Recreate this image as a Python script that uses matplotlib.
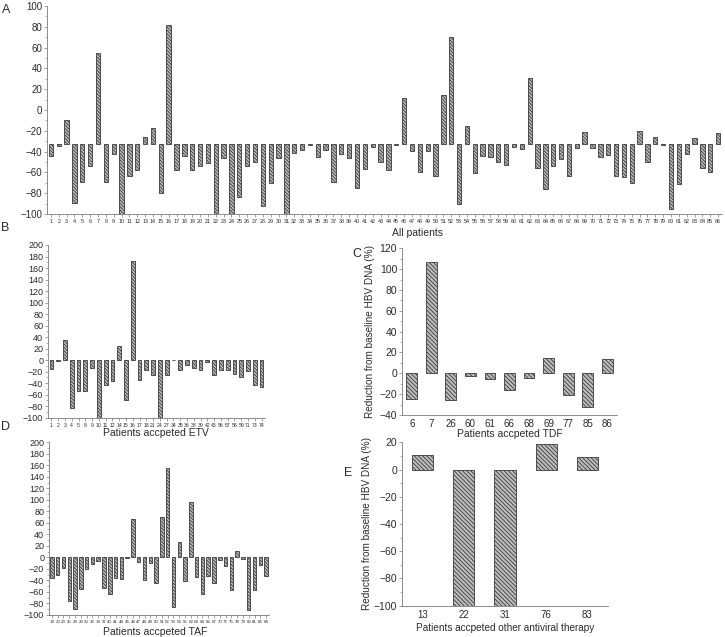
import matplotlib
matplotlib.use('Agg')
import matplotlib.pyplot as plt
from matplotlib.ticker import MultipleLocator
import numpy as np

plt.rcParams['font.family'] = ['Liberation Sans', 'DejaVu Sans']
plt.rcParams['hatch.linewidth'] = 0.6
plt.rcParams['axes.unicode_minus'] = True

# ---------------- data ----------------
a_patients = list(range(1, 87))
a_values = [-44.5, -35, -10, -89, -69, -53.5, 54.5, -69, -42.6, -100,
            -63, -57.7, -25.6, -17.6, -80, 81.7, -57.7, -44.5, -57.7, -54,
            -51, -100, -46, -100, -84, -54, -50, -92, -70, -46,
            -100, -41, -38, -34, -45, -38, -69, -42, -46, -75,
            -57, -35.5, -50, -58, -34, 11.2, -39, -60, -39.5, -63,
            14, 70.5, -90, -15.4, -61, -44.5, -45.5, -49.7, -53, -35.5,
            -37.5, 30.4, -56, -75.6, -54, -47, -63, -37, -21, -37,
            -45.5, -43.6, -63, -64.4, -70.5, -20.5, -50, -25.6, -34, -95,
            -71.5, -42, -27, -55.5, -60, -22.4]
a_base = -33

b_patients = [1, 2, 3, 4, 5, 8, 9, 10, 11, 12, 14, 15, 16, 17, 18, 21, 24, 27,
              34, 35, 36, 38, 39, 42, 43, 56, 57, 58, 59, 71, 73, 74]
b_values = [-16, -2, 35, -84, -53, -53, -14, -100, -44, -36, 24, -70, 172, -35,
            -17, -26, -100, -25, 1, -17, -8, -13, -18, -4, -25, -17, -18, -24,
            -30, -19, -44, -46]

c_patients = ['6', '7', '26', '60', '61', '66', '68', '69', '77', '85', '86']
c_values = [-24.6, 107, -25.3, -2.9, -5, -16.3, -4.8, 14.7, -20.5, -32.6, 13.4]

d_patients = [19, 20, 23, 25, 28, 29, 30, 32, 33, 37, 40, 41, 44, 45, 46, 47, 48,
              49, 50, 51, 52, 53, 54, 55, 62, 63, 64, 65, 67, 70, 72, 75, 78, 79,
              80, 81, 82, 84]
d_values = [-36, -31, -19, -76, -89, -55, -20, -12, -7, -53, -63, -35, -37, -1,
            67, -8, -40, -9, -45, 71, 156, -86, 27, -41, 96, -34, -63, -32, -44.5,
            -5, -15, -56, 11, -2, -92, -56.5, -13, -33]

e_patients = ['13', '22', '31', '76', '83']
e_values = [11, -100, -100, 18.6, 9]

ylabel_text = 'Reduction from baseline HBV DNA (%)'

# ---------------- styling ----------------
W, H = 725, 637
fig = plt.figure(figsize=(W / 100, H / 100), dpi=100)
fig.patch.set_facecolor('white')

FACE = '#bdbdbd'
EDGE = '#3a3a3a'
SPINE = '#7a7a7a'
TXT = '#2a2a2a'


def px_axes(x0, y0, x1, y1):
    return fig.add_axes([x0 / W, 1 - y1 / H, (x1 - x0) / W, (y1 - y0) / H])


def style(ax, ylabsize, xlabsize):
    for s in ['top', 'right']:
        ax.spines[s].set_visible(False)
    for s in ['left', 'bottom']:
        ax.spines[s].set_color(SPINE)
        ax.spines[s].set_linewidth(0.6)
    ax.tick_params(axis='y', which='major', direction='out', length=2.5,
                   width=0.5, color=SPINE, labelsize=ylabsize, labelcolor=TXT, pad=1)
    ax.tick_params(axis='y', which='minor', direction='out', length=1.5,
                   width=0.4, color=SPINE)
    ax.tick_params(axis='x', which='major', direction='out', length=2,
                   width=0.5, color=SPINE, labelsize=xlabsize, labelcolor=TXT, pad=1.5)
    ax.set_facecolor('white')


def bars(ax, x, vals, width, base=0.0, hatch='\\\\\\\\\\\\\\\\\\\\'):
    vals = np.asarray(vals, dtype=float)
    ax.bar(x, vals - base, bottom=base, width=width, color=FACE,
           edgecolor=EDGE, linewidth=0.6, hatch=hatch)


def ftext(x, y, s, size, **kw):
    fig.text(x / W, 1 - y / H, s, fontsize=size, color=TXT,
             ha=kw.pop('ha', 'center'), va=kw.pop('va', 'center'), **kw)


# ---------------- Panel A ----------------
axA = px_axes(47, 6, 722, 214)
xa = np.arange(len(a_patients))
bars(axA, xa, a_values, 0.55, base=a_base)
axA.set_xlim(-0.5, len(a_patients) - 0.5)
axA.set_ylim(-100, 100)
axA.yaxis.set_major_locator(MultipleLocator(20))
axA.yaxis.set_minor_locator(MultipleLocator(10))
axA.set_xticks(xa)
axA.set_xticklabels([str(p) for p in a_patients])
style(axA, 7, 3.9)
ftext(418, 233, 'All patients', 7.5)
ftext(6, 10, 'A', 9)

# ---------------- Panel B ----------------
axB = px_axes(48, 245, 265, 417.7)
xb = np.arange(len(b_patients))
bars(axB, xb, b_values, 0.55)
axB.set_xlim(-0.5, len(b_patients) - 0.5)
axB.set_ylim(-100, 200)
axB.yaxis.set_major_locator(MultipleLocator(20))
axB.yaxis.set_minor_locator(MultipleLocator(10))
axB.set_xticks(xb)
axB.set_xticklabels([str(p) for p in b_patients])
style(axB, 6.5, 3.7)
ftext(156, 433, 'Patients accpeted ETV', 7.5)
ftext(5, 228, 'B', 9)

# ---------------- Panel C ----------------
axC = px_axes(402, 248.3, 617, 415)
xc = np.arange(len(c_patients))
bars(axC, xc, c_values, 0.55, hatch='\\\\\\\\\\\\\\\\')
axC.set_xlim(-0.5, len(c_patients) - 0.5)
axC.set_ylim(-40, 120)
axC.yaxis.set_major_locator(MultipleLocator(20))
axC.yaxis.set_minor_locator(MultipleLocator(10))
axC.set_xticks(xc)
axC.set_xticklabels(c_patients)
style(axC, 7.5, 7)
axC.tick_params(axis='x', length=0, pad=3)
ftext(510, 434, 'Patients accpeted TDF', 7.5)
ftext(370, 331, ylabel_text, 7.2, rotation=90)
ftext(357, 254, 'C', 9)

# ---------------- Panel D ----------------
axD = px_axes(49, 442.3, 269, 615)
xd = np.arange(len(d_patients))
bars(axD, xd, d_values, 0.6)
axD.set_xlim(-0.5, len(d_patients) - 0.5)
axD.set_ylim(-100, 200)
axD.yaxis.set_major_locator(MultipleLocator(20))
axD.yaxis.set_minor_locator(MultipleLocator(10))
axD.set_xticks(xd)
axD.set_xticklabels([str(p) for p in d_patients])
style(axD, 6.5, 3.2)
ftext(155, 632, 'Patients accpeted TAF', 7.5)
ftext(5, 427, 'D', 9)

# ---------------- Panel E ----------------
axE = px_axes(402, 442.3, 608, 605.7)
xe = np.arange(len(e_patients))
bars(axE, xe, e_values, 0.51, hatch='\\\\\\\\\\\\\\\\')
axE.set_xlim(-0.5, len(e_patients) - 0.5)
axE.set_ylim(-100, 20)
axE.yaxis.set_major_locator(MultipleLocator(20))
axE.yaxis.set_minor_locator(MultipleLocator(10))
axE.set_xticks(xe)
axE.set_xticklabels(e_patients)
style(axE, 7.5, 7)
axE.tick_params(axis='x', length=0, pad=3)
ftext(505, 628, 'Patients accpeted other antiviral therapy', 7.2)
ftext(367, 524, ylabel_text, 7.2, rotation=90)
ftext(348, 473, 'E', 9)

fig.savefig('out.png', dpi=100, facecolor='white')
